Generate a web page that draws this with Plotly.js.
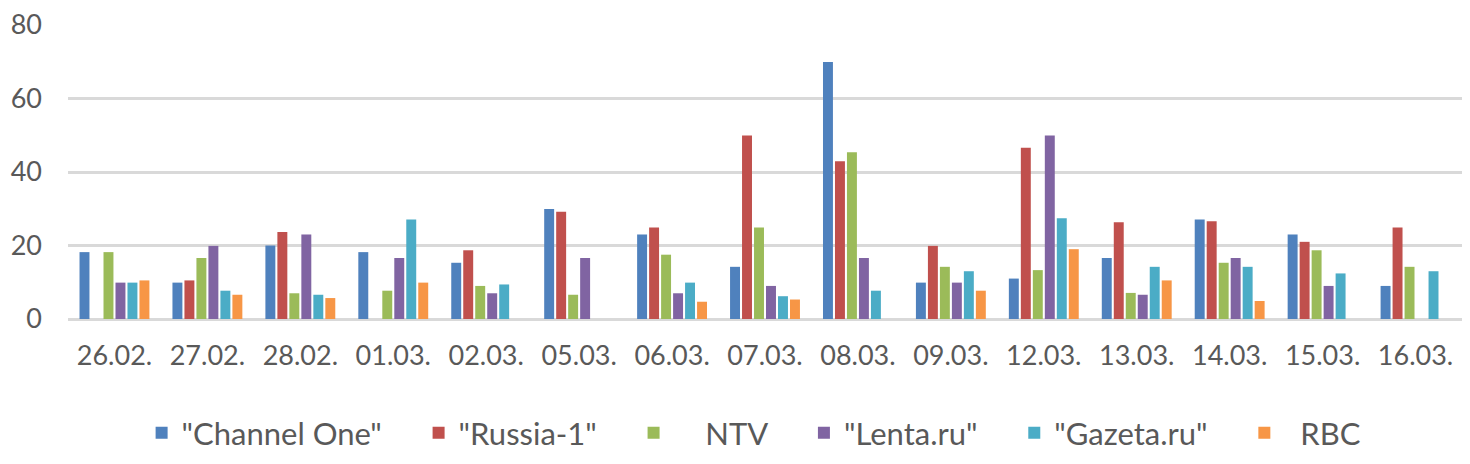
<!DOCTYPE html>
<html>
<head>
<meta charset="utf-8">
<script src="https://cdn.plot.ly/plotly-3.0.1.min.js"></script>
<style>html,body{margin:0;padding:0;background:#fff;}#chart{width:1470px;height:464px;}</style>
</head>
<body>
<div id="chart"></div>
<script>
const categories = ["26.02.","27.02.","28.02.","01.03.","02.03.","05.03.","06.03.","07.03.","08.03.","09.03.","12.03.","13.03.","14.03.","15.03.","16.03."];
const seriesNames = ['"Channel One"', '"Russia-1"', '\u00a0\u00a0\u00a0\u00a0NTV', '"Lenta.ru"', '"Gazeta.ru"', '\u00a0\u00a0RBC'];
const channelOne = [18.2, 9.9, 20, 18.2, 15.3, 29.9, 23, 14.2, 69.9, 9.9, 11, 16.6, 27.1, 23, 9];
const russia1    = [null, 10.5, 23.7, null, 18.7, 29.2, 24.9, 49.9, 42.9, 19.9, 46.6, 26.3, 26.6, 21, 24.9];
const ntv        = [18.2, 16.6, 7, 7.7, 9, 6.6, 17.5, 24.9, 45.4, 14.2, 13.3, 7.1, 15.3, 18.7, 14.2];
const lenta      = [9.9, 19.9, 23, 16.6, 7, 16.6, 7, 9, 16.6, 9.9, 49.9, 6.6, 16.6, 9, null];
const gazeta     = [9.9, 7.7, 6.6, 27.1, 9.4, null, 9.9, 6.2, 7.7, 13, 27.4, 14.2, 14.2, 12.4, 13];
const rbc        = [10.5, 6.6, 5.7, 9.9, null, null, 4.7, 5.3, null, 7.7, 19, 10.5, 4.9, null, null];
const yTicks = [0, 20, 40, 60, 80];

const colors = ["#4F81BD", "#C0504D", "#9BBB59", "#8064A2", "#4BACC6", "#F79646"];
const allSeries = [channelOne, russia1, ntv, lenta, gazeta, rbc];
const pad = "\u00a0\u00a0\u00a0\u00a0";

const traces = allSeries.map((vals, i) => ({
  type: "bar",
  name: seriesNames[i] + (i < allSeries.length - 1 ? pad : ""),
  x: categories,
  y: vals,
  marker: {color: colors[i], line: {width: 0}},
  hoverinfo: "x+y+name"
}));

const layout = {
  width: 1470,
  height: 464,
  margin: {l: 68, r: 8, t: 25, b: 145},
  paper_bgcolor: "#fff",
  plot_bgcolor: "#fff",
  barmode: "group",
  bargap: 0.226,
  bargroupgap: 0.17,
  font: {family: "Lato, 'Open Sans', sans-serif", color: "#595959"},
  xaxis: {
    type: "category",
    showgrid: false,
    zeroline: false,
    showline: false,
    ticks: "",
    ticklabelstandoff: 18,
    tickfont: {size: 27, color: "#595959"}
  },
  yaxis: {
    range: [0, 80],
    tickvals: yTicks,
    ticktext: yTicks.map(String),
    showgrid: true,
    gridcolor: "#D9D9D9",
    gridwidth: 3,
    zeroline: true,
    zerolinecolor: "#D9D9D9",
    zerolinewidth: 3,
    showline: false,
    ticks: "",
    ticklabelstandoff: 25,
    tickfont: {size: 27, color: "#595959"}
  },
  showlegend: true,
  legend: {
    orientation: "h",
    xref: "container",
    yref: "container",
    x: 0.513,
    xanchor: "center",
    y: (464 - 433) / 464,
    yanchor: "middle",
    font: {size: 31, color: "#595959"},
    bgcolor: "rgba(0,0,0,0)"
  }
};

Plotly.newPlot("chart", traces, layout, {displayModeBar: false, staticPlot: true});
</script>
</body>
</html>
